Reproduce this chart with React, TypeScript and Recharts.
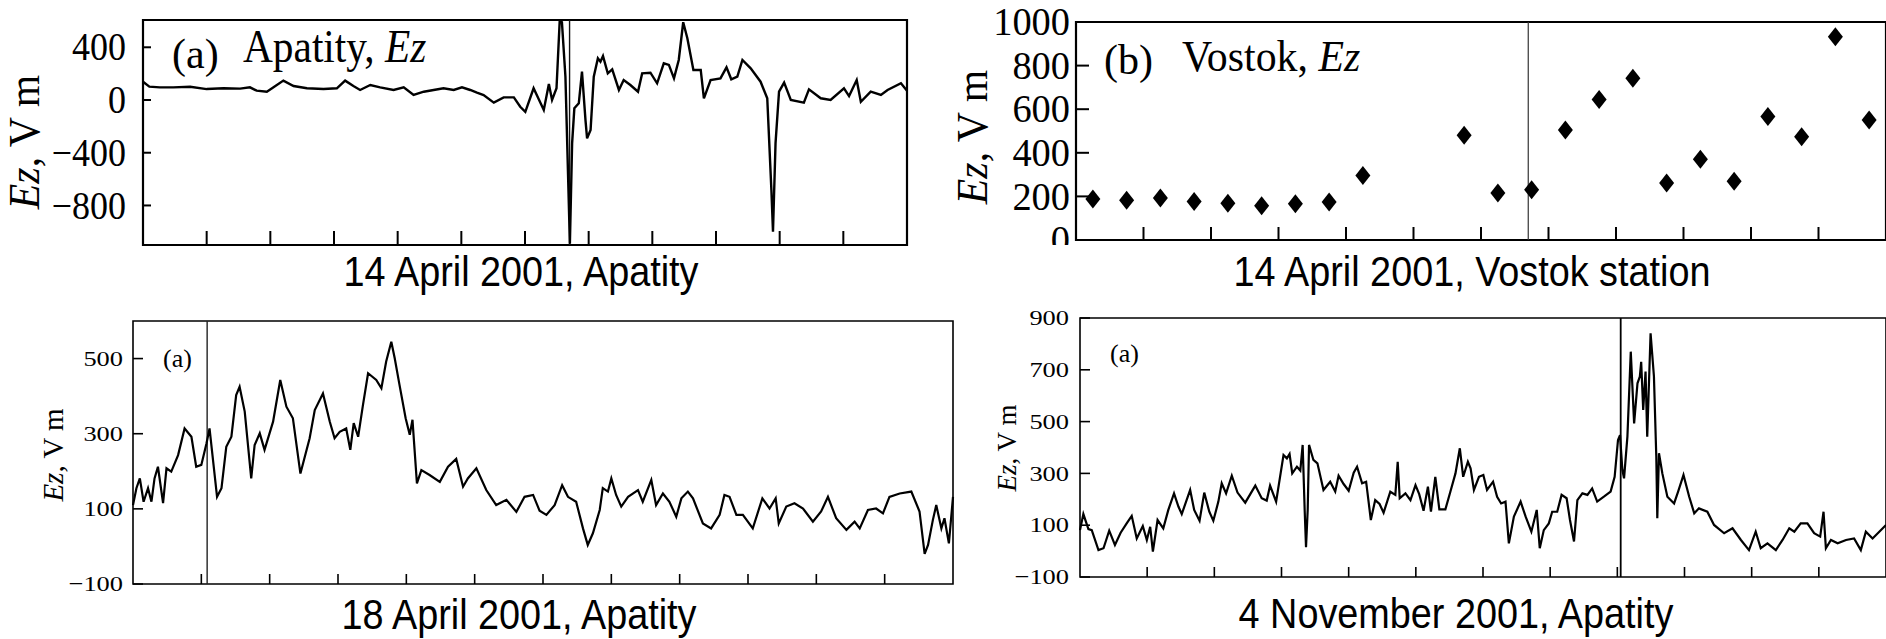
import React from 'react';
import { LineChart, Line, ScatterChart, Scatter, XAxis, YAxis, ReferenceLine, ReferenceArea, Label } from 'recharts';

// x axis runs over one day (UT hours), ticks every 2 h without labels
const HOUR_TICKS = [2, 4, 6, 8, 10, 12, 14, 16, 18, 20, 22];

// (a) 14 April 2001, Apatity
const apatity14Hours = [
  0, 0.2, 0.53, 0.95, 1.48, 2.0, 2.53, 3.05, 3.36, 3.57,
  3.89, 4.1, 4.41, 4.73, 5.15, 5.67, 6.09, 6.35, 6.61, 6.82,
  7.14, 7.45, 7.87, 8.19, 8.5, 8.82, 9.13, 9.44, 9.76, 10.02,
  10.28, 10.49, 10.7, 11.02, 11.33, 11.65, 11.85, 12.01, 12.27, 12.59,
  12.75, 12.85, 12.99, 13.09, 13.16, 13.27, 13.41, 13.48, 13.55, 13.69,
  13.79, 13.9, 13.95, 14.06, 14.16, 14.29, 14.37, 14.45, 14.6, 14.74,
  14.95, 15.1, 15.31, 15.55, 15.68, 15.94, 16.15, 16.36, 16.52, 16.68,
  16.83, 16.97, 17.1, 17.29, 17.52, 17.62, 17.83, 18.14, 18.33, 18.48,
  18.67, 18.83, 19.09, 19.4, 19.61, 19.74, 19.79, 19.87, 19.98, 20.14,
  20.35, 20.76, 20.92, 21.29, 21.6, 22.02, 22.18, 22.42, 22.55, 22.86,
  23.18, 23.39, 23.81, 24.0,
];
const apatity14Ez = [
  139, 101, 96, 96, 101, 83, 89, 86, 96, 71,
  63, 96, 147, 106, 89, 83, 89, 147, 106, 76,
  114, 96, 76, 96, 38, 63, 76, 89, 76, 96,
  76, 56, 38, -20, 20, 20, -51, -90, 89, -76,
  121, 0, 89, 600, 590, 177, -1090, -329, -63, -25,
  215, -152, -291, -228, 177, 316, 291, 334, 202, 233,
  76, 152, 114, 63, 202, 207, 127, 278, 266, 164,
  304, 590, 468, 228, 228, 13, 152, 164, 248, 157,
  177, 304, 240, 139, 13, -683, -1000, -329, 63, 132,
  0, -20, 81, 13, 0, 89, 30, 152, -13, 63,
  38, 76, 127, 71,
];

// (b) 14 April 2001, Vostok station (hourly values)
const vostokHours = [0.5, 1.5, 2.5, 3.5, 4.5, 5.5, 6.5, 7.5, 8.5, 11.5, 12.5, 13.5, 14.5, 15.5, 16.5, 17.5, 18.5, 19.5, 20.5, 21.5, 22.5, 23.5];
const vostokEz = [188, 182, 193, 177, 169, 157, 166, 174, 296, 480, 216, 231, 505, 644, 742, 262, 370, 269, 567, 474, 932, 550];

// 18 April 2001, Apatity
const apatity18Hours = [
  0, 0.1, 0.2, 0.31, 0.44, 0.54, 0.63, 0.73, 0.88, 0.98,
  1.12, 1.32, 1.51, 1.71, 1.85, 2.0, 2.15, 2.24, 2.46, 2.59,
  2.73, 2.88, 3.02, 3.12, 3.27, 3.46, 3.56, 3.71, 3.85, 4.1,
  4.31, 4.49, 4.68, 4.9, 5.17, 5.32, 5.56, 5.76, 5.9, 6.05,
  6.24, 6.36, 6.46, 6.59, 6.73, 6.88, 7.12, 7.27, 7.41, 7.56,
  7.66, 7.8, 7.98, 8.1, 8.18, 8.31, 8.44, 8.68, 8.98, 9.22,
  9.46, 9.66, 9.8, 10.05, 10.34, 10.63, 10.93, 11.22, 11.46, 11.71,
  11.9, 12.1, 12.34, 12.56, 12.73, 12.97, 13.17, 13.31, 13.46, 13.66,
  13.75, 13.9, 14.0, 14.14, 14.29, 14.49, 14.78, 14.92, 15.17, 15.31,
  15.51, 15.7, 15.9, 16.05, 16.24, 16.39, 16.68, 16.92, 17.17, 17.31,
  17.46, 17.66, 17.85, 18.14, 18.42, 18.63, 18.81, 18.9, 19.12, 19.36,
  19.61, 19.9, 20.14, 20.34, 20.58, 20.88, 21.12, 21.27, 21.51, 21.75,
  21.95, 22.14, 22.44, 22.78, 23.02, 23.17, 23.27, 23.41, 23.51, 23.66,
  23.75, 23.88, 24.0,
];
const apatity18Ez = [
  110, 155, 181, 119, 155, 119, 181, 212, 115, 208,
  199, 243, 314, 292, 212, 217, 274, 314, 132, 155,
  265, 292, 403, 425, 359, 181, 270, 301, 257, 332,
  443, 372, 341, 194, 288, 363, 407, 332, 288, 305,
  314, 257, 328, 292, 376, 461, 443, 421, 492, 545,
  501, 430, 341, 297, 337, 168, 203, 190, 172, 212,
  233, 159, 181, 208, 150, 110, 124, 92, 132, 137,
  95, 84, 110, 163, 132, 119, 48, 4, 35, 97,
  155, 146, 181, 137, 106, 132, 150, 119, 177, 110,
  141, 119, 79, 128, 146, 128, 61, 48, 84, 137,
  132, 84, 84, 48, 128, 101, 128, 61, 106, 115,
  101, 66, 93, 132, 75, 44, 66, 48, 97, 101,
  88, 132, 141, 146, 93, -20, 4, 70, 110, 48,
  75, 8, 132,
];

// 4 November 2001, Apatity
const apatityNovHours = [
  0, 0.1, 0.25, 0.35, 0.55, 0.7, 0.87, 1.04, 1.21, 1.39,
  1.54, 1.69, 1.87, 1.99, 2.09, 2.17, 2.31, 2.48, 2.63, 2.8,
  2.93, 3.03, 3.28, 3.4, 3.56, 3.7, 3.85, 3.97, 4.12, 4.22,
  4.35, 4.52, 4.69, 4.92, 5.22, 5.41, 5.56, 5.66, 5.84, 6.06,
  6.16, 6.24, 6.32, 6.46, 6.56, 6.63, 6.69, 6.73, 6.78, 6.82,
  6.95, 7.07, 7.25, 7.45, 7.6, 7.7, 7.85, 8.0, 8.15, 8.25,
  8.4, 8.52, 8.66, 8.79, 8.92, 9.04, 9.24, 9.39, 9.46, 9.52,
  9.69, 9.84, 9.99, 10.1, 10.23, 10.36, 10.45, 10.58, 10.7, 10.88,
  11.03, 11.18, 11.31, 11.41, 11.55, 11.63, 11.73, 11.88, 12.01, 12.12,
  12.3, 12.42, 12.54, 12.67, 12.77, 12.92, 13.12, 13.27, 13.44, 13.6,
  13.69, 13.81, 13.96, 14.06, 14.21, 14.34, 14.49, 14.59, 14.71, 14.81,
  14.96, 15.11, 15.25, 15.4, 15.6, 15.8, 15.92, 16.02, 16.08, 16.15,
  16.2, 16.3, 16.4, 16.5, 16.6, 16.67, 16.71, 16.77, 16.84, 16.89,
  16.99, 17.09, 17.16, 17.19, 17.24, 17.34, 17.49, 17.69, 17.81, 17.97,
  18.14, 18.29, 18.43, 18.68, 18.88, 19.18, 19.43, 19.68, 19.92, 20.12,
  20.27, 20.47, 20.72, 20.92, 21.12, 21.27, 21.46, 21.66, 21.86, 22.04,
  22.14, 22.21, 22.36, 22.56, 22.81, 23.05, 23.25, 23.4, 23.6, 23.8,
  24.0,
];
const apatityNovEz = [
  81, 143, 85, 81, 4, 11, 79, 24, 71, 107,
  136, 49, 97, 43, 94, -2, 120, 88, 159, 223,
  172, 143, 236, 159, 117, 226, 152, 117, 191, 262,
  223, 291, 226, 187, 253, 204, 195, 253, 191, 371,
  358, 375, 300, 326, 311, 410, 159, 15, 159, 410,
  352, 339, 236, 268, 230, 291, 259, 233, 303, 326,
  262, 268, 120, 197, 182, 148, 229, 217, 345, 204,
  223, 197, 255, 220, 156, 249, 152, 287, 161, 161,
  230, 300, 397, 287, 345, 320, 236, 287, 294, 236,
  268, 210, 184, 191, 30, 133, 191, 133, 75, 159,
  11, 81, 107, 152, 152, 217, 204, 120, 37, 197,
  223, 217, 242, 191, 210, 230, 287, 429, 448, 313,
  281, 442, 770, 493, 648, 674, 731, 545, 693, 442,
  841, 674, 365, 127, 378, 300, 210, 184, 230, 294,
  210, 146, 165, 152, 101, 69, 88, 43, 4, 75,
  11, 30, 4, 43, 88, 75, 107, 107, 69, 56,
  152, 11, 43, 30, 43, 49, 4, 75, 49, 75,
  101,
];

const apatity14Data = apatity14Hours.map((h, i) => ({ h, v: apatity14Ez[i] }));
const vostokData = vostokHours.map((h, i) => ({ h, v: vostokEz[i] }));
const apatity18Data = apatity18Hours.map((h, i) => ({ h, v: apatity18Ez[i] }));
const apatityNovData = apatityNovHours.map((h, i) => ({ h, v: apatityNovEz[i] }));

const SERIF = 'Liberation Serif, Times New Roman, serif';
const SANS = 'Liberation Sans, Arial, sans-serif';

type TickOpts = { left: number; len: number; gap: number; size: number; sx: number; sw: number; clipY?: number };

function makeYTick(o: TickOpts) {
  return (props: any) => {
    const { y, payload } = props;
    const v = payload.value;
    const text = v < 0 ? `\u2212${Math.abs(v)}` : `${v}`;
    const label = (
      <text
        transform={`translate(${o.left - o.gap},${y + o.size * 0.33}) scale(${o.sx},1)`}
        textAnchor="end"
        fontFamily={SERIF}
        fontSize={o.size}
        fill="#000"
      >
        {text}
      </text>
    );
    return (
      <g>
        <line x1={o.left} x2={o.left + o.len} y1={y} y2={y} stroke="#000" strokeWidth={o.sw} />
        {/* the source figure is cropped just under its frame, so the lowest label is cut */}
        {o.clipY ? <svg x={0} y={0} width={o.left} height={o.clipY} overflow="hidden">{label}</svg> : label}
      </g>
    );
  };
}

function makeXTick(bottom: number, len: number, sw: number) {
  return (props: any) => (
    <line x1={props.x} x2={props.x} y1={bottom} y2={bottom - len} stroke="#000" strokeWidth={sw} />
  );
}

function YTitle({ x, y, size, sx = 1 }: { x: number; y: number; size: number; sx?: number }) {
  return (
    <text transform={`translate(${x},${y}) rotate(-90) scale(${sx},1)`} textAnchor="middle" fontFamily={SERIF} fontSize={size} fill="#000">
      <tspan fontStyle="italic">Ez</tspan>, V m
    </text>
  );
}

function XTitle({ x, y, text }: { x: number; y: number; text: string }) {
  return (
    <text transform={`translate(${x},${y}) scale(0.9,1)`} textAnchor="middle" fontFamily={SANS} fontSize={42} fill="#000">
      {text}
    </text>
  );
}

function Note({ x, y, size, sx = 1, children }: { x: number; y: number; size: number; sx?: number; children: React.ReactNode }) {
  return (
    <text transform={`translate(${x},${y}) scale(${sx},1)`} fontFamily={SERIF} fontSize={size} fill="#000">
      {children}
    </text>
  );
}

const Diamond = (props: any) => {
  const { cx, cy } = props;
  return <path d={`M${cx},${cy - 9.5} L${cx + 7.5},${cy} L${cx},${cy + 9.5} L${cx - 7.5},${cy} Z`} fill="#000" />;
};

// axes get 1px of room (a 0px axis is not drawn); the plot box sits at margin + 1
function PanelA() {
  const m = { top: 20, right: 13, bottom: 54, left: 142 };
  return (
    <LineChart width={920} height={300} data={apatity14Data} margin={m}>
      <XAxis
        dataKey="h" type="number" domain={[0, 24]} ticks={HOUR_TICKS} interval={0}
        height={1} axisLine={false} tickLine={false} tickSize={0} tickMargin={0}
        tick={makeXTick(245, 14, 2)}
        label={<Label content={() => <XTitle x={521} y={286} text="14 April 2001, Apatity" />} />}
      />
      <YAxis
        type="number" domain={[-1100, 607]} allowDataOverflow ticks={[400, 0, -400, -800]} interval={0}
        width={1} axisLine={false} tickLine={false} tickSize={0} tickMargin={0}
        tick={makeYTick({ left: 143, len: 8, gap: 17, size: 40, sx: 0.9, sw: 2 })}
        label={
          <Label
            content={() => (
              <g>
                <YTitle x={39} y={142} size={44} sx={0.95} />
                <Note x={172} y={68} size={42}>(a)</Note>
                <Note x={243} y={62} size={47} sx={0.88}>
                  Apatity, <tspan fontStyle="italic">Ez</tspan>
                </Note>
              </g>
            )}
          />
        }
      />
      <ReferenceArea x1={0} x2={24} y1={-1100} y2={607} fill="none" stroke="#000" strokeWidth={2.2} />
      <ReferenceLine x={13.4} stroke="#111" strokeWidth={1.4} />
      <Line type="linear" dataKey="v" stroke="#000" strokeWidth={2.4} dot={false} isAnimationActive={false} />
    </LineChart>
  );
}

function PanelB() {
  const m = { top: 22, right: 0, bottom: 59, left: 135 };
  return (
    <ScatterChart width={946} height={300} margin={m}>
      <XAxis
        dataKey="h" type="number" domain={[0, 24]} ticks={HOUR_TICKS} interval={0}
        height={1} axisLine={false} tickLine={false} tickSize={0} tickMargin={0}
        tick={makeXTick(240, 13, 2)}
        label={<Label content={() => <XTitle x={532} y={286} text="14 April 2001, Vostok station" />} />}
      />
      <YAxis
        dataKey="v" type="number" domain={[0, 1000]} allowDataOverflow ticks={[0, 200, 400, 600, 800, 1000]} interval={0}
        width={1} axisLine={false} tickLine={false} tickSize={0} tickMargin={0}
        tick={makeYTick({ left: 136, len: 13, gap: 6, size: 40, sx: 0.96, sw: 2, clipY: 245 })}
        label={
          <Label
            content={() => (
              <g>
                <YTitle x={47} y={137} size={44} sx={0.95} />
                <Note x={164} y={74} size={42}>(b)</Note>
                <Note x={242} y={71} size={45} sx={0.93}>
                  Vostok, <tspan fontStyle="italic">Ez</tspan>
                </Note>
              </g>
            )}
          />
        }
      />
      <ReferenceArea x1={0} x2={24} y1={0} y2={1000} fill="none" stroke="#000" strokeWidth={2.2} />
      <ReferenceLine x={13.4} stroke="#333" strokeWidth={1.2} />
      <Scatter data={vostokData} dataKey="v" shape={Diamond} isAnimationActive={false} />
    </ScatterChart>
  );
}

function PanelC() {
  const m = { top: 21, right: 7, bottom: 54, left: 132 };
  return (
    <LineChart width={960} height={339} data={apatity18Data} margin={m}>
      <XAxis
        dataKey="h" type="number" domain={[0, 24]} ticks={HOUR_TICKS} interval={0}
        height={1} axisLine={false} tickLine={false} tickSize={0} tickMargin={0}
        tick={makeXTick(284, 10, 1.6)}
        label={<Label content={() => <XTitle x={519} y={329} text="18 April 2001, Apatity" />} />}
      />
      <YAxis
        type="number" domain={[-100, 600]} allowDataOverflow ticks={[-100, 100, 300, 500]} interval={0}
        width={1} axisLine={false} tickLine={false} tickSize={0} tickMargin={0}
        tick={makeYTick({ left: 133, len: 10, gap: 10, size: 22, sx: 1.2, sw: 1.6 })}
        label={
          <Label
            content={() => (
              <g>
                <YTitle x={63} y={155} size={29} />
                <Note x={163} y={67} size={26}>(a)</Note>
              </g>
            )}
          />
        }
      />
      <ReferenceArea x1={0} x2={24} y1={-100} y2={600} fill="none" stroke="#000" strokeWidth={1.6} />
      <ReferenceLine x={2.17} stroke="#222" strokeWidth={1.4} />
      <Line type="linear" dataKey="v" stroke="#000" strokeWidth={2.2} dot={false} isAnimationActive={false} />
    </LineChart>
  );
}

function PanelD() {
  const m = { top: 18, right: 0, bottom: 61, left: 119 };
  return (
    <LineChart width={926} height={339} data={apatityNovData} margin={m}>
      <XAxis
        dataKey="h" type="number" domain={[0, 24]} ticks={HOUR_TICKS} interval={0}
        height={1} axisLine={false} tickLine={false} tickSize={0} tickMargin={0}
        tick={makeXTick(277, 10, 1.6)}
        label={<Label content={() => <XTitle x={496} y={328} text="4 November 2001, Apatity" />} />}
      />
      <YAxis
        type="number" domain={[-100, 900]} allowDataOverflow ticks={[-100, 100, 300, 500, 700, 900]} interval={0}
        width={1} axisLine={false} tickLine={false} tickSize={0} tickMargin={0}
        tick={makeYTick({ left: 120, len: 10, gap: 11, size: 22, sx: 1.2, sw: 1.6 })}
        label={
          <Label
            content={() => (
              <g>
                <YTitle x={56} y={148} size={27} />
                <Note x={150} y={62} size={26}>(a)</Note>
              </g>
            )}
          />
        }
      />
      <ReferenceArea x1={0} x2={24} y1={-100} y2={900} fill="none" stroke="#000" strokeWidth={1.6} />
      <ReferenceLine x={16.1} stroke="#000" strokeWidth={1.8} />
      <Line type="linear" dataKey="v" stroke="#000" strokeWidth={2.2} dot={false} isAnimationActive={false} />
    </LineChart>
  );
}

export default function App() {
  return (
    <div style={{ position: 'absolute', left: 0, top: 0, width: 1886, height: 639, background: '#fff', overflow: 'hidden' }}>
      <div style={{ position: 'absolute', left: 0, top: 0 }}>
        <PanelA />
      </div>
      <div style={{ position: 'absolute', left: 940, top: 0 }}>
        <PanelB />
      </div>
      <div style={{ position: 'absolute', left: 0, top: 300 }}>
        <PanelC />
      </div>
      <div style={{ position: 'absolute', left: 960, top: 300 }}>
        <PanelD />
      </div>
    </div>
  );
}
